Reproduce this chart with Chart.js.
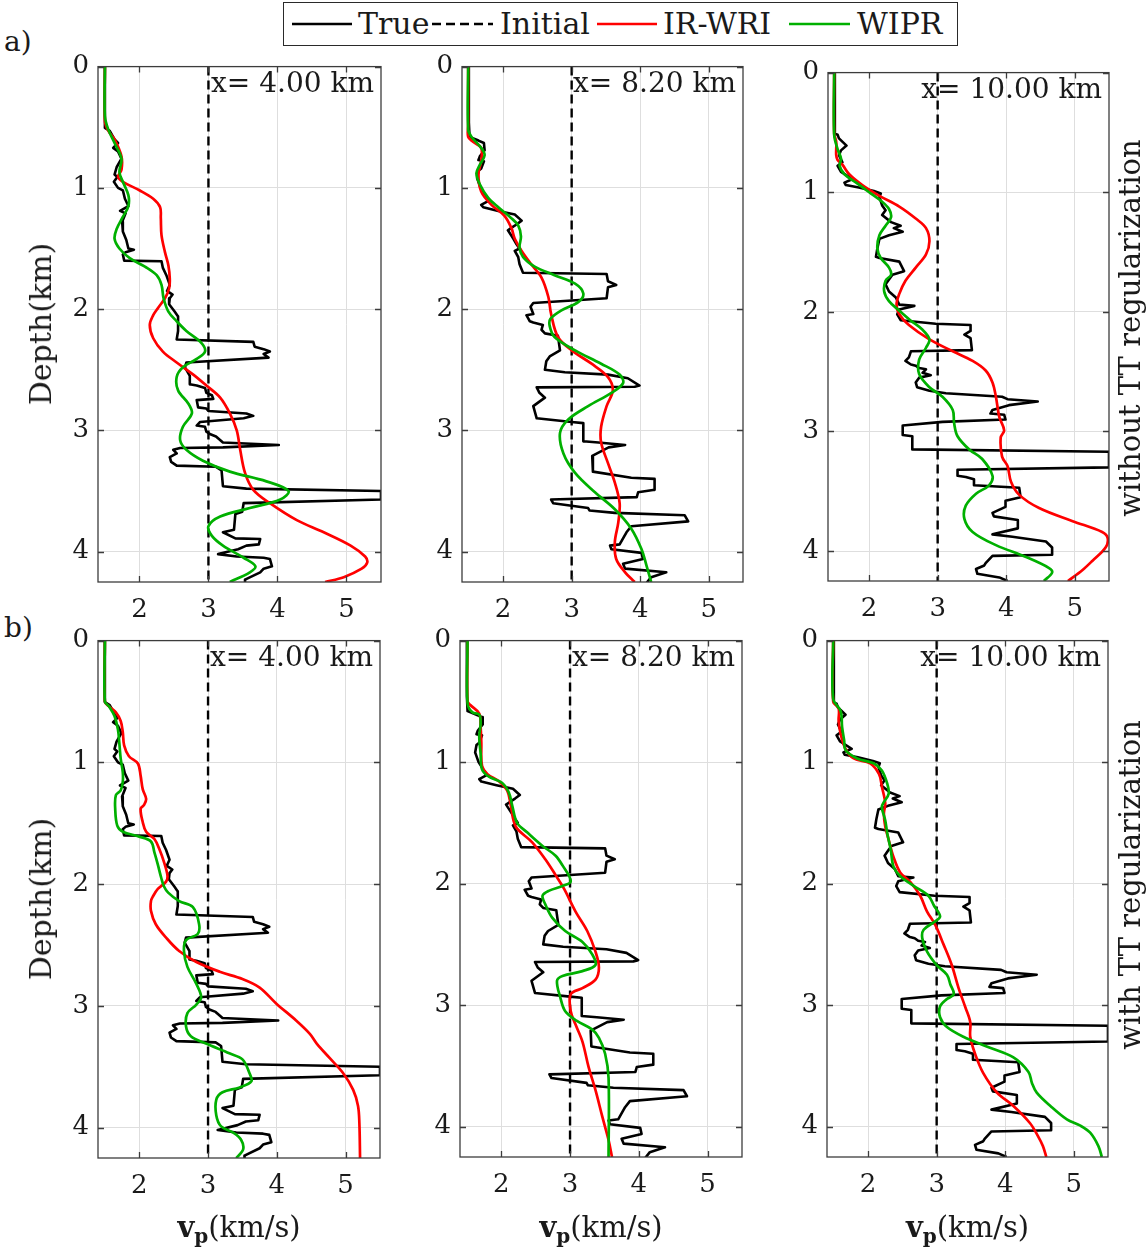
<!DOCTYPE html>
<html><head><meta charset="utf-8">
<script src="https://cdn.jsdelivr.net/npm/chart.js@4.4.1/dist/chart.umd.min.js"></script>
<style>
html,body{margin:0;padding:0;background:#fff;}
#wrap{position:relative;width:1148px;height:1255px;overflow:hidden;font-family:'DejaVu Serif',serif;color:#1a1a1a;}
.abs{position:absolute;white-space:nowrap;line-height:1;}
.rot{transform:translate(-50%,-50%) rotate(-90deg);}
canvas{display:block;}
</style></head><body><div id="wrap"></div>
<script>
// ---------- axis definitions ----------
const xTicks = [2, 3, 4, 5];
const yTicks = [0, 1, 2, 3, 4];
const vpRange = [1.4, 5.5];
const depthRange = [0, 4.25];
const seriesNames = ['True', 'Initial', 'IR-WRI', 'WIPR'];
const panelLabels = ['x= 4.00 km', 'x= 8.20 km', 'x= 10.00 km'];

// ---------- data: [depth (km), vp (km/s)] ----------
const initialModel = [[0, 3], [4.25, 3]];

const trueX4 = [[0,1.5],[0.505,1.5],[0.53,1.57],[0.60,1.64],[0.63,1.69],[0.67,1.62],[0.70,1.69],[0.76,1.74],[0.83,1.67],[0.89,1.64],[0.91,1.68],[0.95,1.63],[1.0,1.69],[1.02,1.76],[1.09,1.79],[1.15,1.84],[1.19,1.72],[1.21,1.80],[1.28,1.75],[1.36,1.76],[1.43,1.81],[1.50,1.84],[1.51,1.92],[1.53,1.80],[1.55,1.76],[1.60,1.78],[1.605,2.32],[1.66,2.34],[1.72,2.39],[1.80,2.44],[1.85,2.40],[1.88,2.48],[1.91,2.44],[1.96,2.43],[2.02,2.51],[2.06,2.56],[2.18,2.56],[2.25,2.54],[2.27,3.65],[2.31,3.67],[2.33,3.80],[2.35,3.89],[2.37,3.80],[2.40,3.87],[2.44,2.68],[2.48,2.66],[2.55,2.73],[2.62,2.73],[2.63,2.83],[2.65,2.95],[2.69,2.97],[2.71,3.05],[2.74,3.07],[2.75,2.83],[2.81,2.85],[2.82,2.97],[2.84,3.0],[2.86,3.55],[2.88,3.65],[2.90,3.51],[2.93,2.88],[2.96,2.83],[2.97,2.95],[3.01,2.97],[3.03,3.02],[3.05,3.11],[3.10,3.21],[3.12,4.02],[3.14,3.21],[3.145,2.59],[3.16,2.49],[3.19,2.54],[3.22,2.44],[3.26,2.46],[3.29,2.54],[3.30,3.11],[3.33,3.19],[3.46,3.21],[3.48,3.55],[3.50,5.5],[3.57,5.5],[3.60,3.51],[3.67,3.49],[3.69,3.39],[3.82,3.37],[3.84,3.21],[3.89,3.39],[3.895,3.75],[3.94,3.73],[3.95,3.55],[3.98,3.43],[4.02,3.14],[4.04,3.41],[4.05,3.80],[4.06,3.89],[4.12,3.92],[4.14,3.80],[4.17,3.75],[4.23,3.53],[4.26,3.53]];
const trueX82 = [[0,1.5],[0.46,1.5],[0.58,1.51],[0.61,1.64],[0.63,1.72],[0.69,1.73],[0.74,1.66],[0.77,1.64],[0.78,1.72],[0.84,1.68],[0.86,1.64],[0.92,1.62],[1.0,1.67],[1.08,1.76],[1.11,1.78],[1.14,1.68],[1.16,1.71],[1.19,1.93],[1.22,2.17],[1.27,2.27],[1.30,2.20],[1.33,2.12],[1.35,2.07],[1.42,2.15],[1.46,2.19],[1.50,2.24],[1.52,2.17],[1.57,2.22],[1.63,2.24],[1.70,2.29],[1.71,3.51],[1.77,3.53],[1.80,3.65],[1.82,3.53],[1.91,3.51],[1.95,2.44],[1.98,2.40],[2.04,2.44],[2.05,2.34],[2.10,2.39],[2.11,2.44],[2.13,2.58],[2.17,2.56],[2.20,2.61],[2.22,2.80],[2.34,2.83],[2.39,2.68],[2.43,2.63],[2.50,2.61],[2.52,2.90],[2.54,3.53],[2.57,3.82],[2.63,3.99],[2.64,3.92],[2.645,2.49],[2.69,2.53],[2.73,2.61],[2.80,2.44],[2.90,2.49],[2.93,3.0],[2.94,3.17],[3.09,3.17],[3.10,3.39],[3.12,3.78],[3.14,3.54],[3.21,3.30],[3.34,3.31],[3.39,3.87],[3.40,4.21],[3.49,4.21],[3.51,3.97],[3.55,3.95],[3.57,2.70],[3.60,2.73],[3.64,3.24],[3.66,3.26],[3.68,3.63],[3.70,4.65],[3.75,4.70],[3.79,3.87],[3.84,3.80],[3.94,3.70],[3.95,3.56],[3.98,3.58],[4.01,4.02],[4.06,4.04],[4.10,3.75],[4.14,3.78],[4.17,4.38],[4.21,4.16],[4.26,4.09]];
const trueX10 = [[0,1.5],[0.51,1.5],[0.52,1.54],[0.55,1.56],[0.61,1.67],[0.65,1.59],[0.69,1.56],[0.75,1.61],[0.78,1.54],[0.83,1.59],[0.89,1.76],[0.92,1.64],[0.94,1.66],[0.96,1.85],[0.99,2.07],[1.01,2.17],[1.04,2.15],[1.11,2.19],[1.15,2.24],[1.19,2.19],[1.25,2.32],[1.28,2.46],[1.30,2.36],[1.33,2.49],[1.36,2.29],[1.39,2.15],[1.47,2.12],[1.54,2.10],[1.55,2.15],[1.58,2.44],[1.66,2.51],[1.69,2.34],[1.73,2.29],[1.77,2.24],[1.83,2.29],[1.88,2.39],[1.94,2.44],[1.95,2.66],[1.98,2.44],[2.02,2.41],[2.07,2.46],[2.10,2.97],[2.11,3.48],[2.16,3.48],[2.19,3.39],[2.22,3.48],[2.32,3.50],[2.33,2.61],[2.38,2.58],[2.41,2.53],[2.44,2.61],[2.45,2.68],[2.47,2.73],[2.48,2.83],[2.51,2.78],[2.53,2.90],[2.55,2.73],[2.59,2.68],[2.63,2.70],[2.66,2.88],[2.68,3.12],[2.71,3.94],[2.73,4.02],[2.75,4.46],[2.78,4.04],[2.82,3.80],[2.85,3.77],[2.86,3.97],[2.90,3.99],[2.92,3.07],[2.95,2.49],[3.03,2.49],[3.04,2.63],[3.15,2.63],[3.17,5.5],[3.30,5.5],[3.32,3.29],[3.37,3.29],[3.38,3.41],[3.40,3.53],[3.45,3.53],[3.47,4.19],[3.55,4.21],[3.58,3.99],[3.63,3.99],[3.68,3.80],[3.71,3.82],[3.74,4.17],[3.81,4.17],[3.86,3.80],[3.88,4.09],[3.92,4.58],[3.97,4.67],[4.03,4.67],[4.04,3.80],[4.10,3.70],[4.12,3.68],[4.15,3.56],[4.19,3.58],[4.22,3.90],[4.25,4.02]];

// row a) without TT regularization
const irwriA4 = [[0,1.5],[0.45,1.5],[0.53,1.55],[0.60,1.64],[0.74,1.74],[0.85,1.74],[0.91,1.69],[0.95,1.76],[1.02,2.0],[1.09,2.2],[1.16,2.30],[1.25,2.31],[1.39,2.32],[1.53,2.37],[1.64,2.42],[1.75,2.44],[1.83,2.43],[1.91,2.37],[1.99,2.27],[2.05,2.20],[2.13,2.15],[2.24,2.20],[2.35,2.34],[2.44,2.54],[2.54,2.78],[2.63,2.97],[2.73,3.17],[2.86,3.31],[3.0,3.41],[3.16,3.46],[3.35,3.53],[3.49,3.65],[3.60,3.89],[3.74,4.28],[3.84,4.67],[3.95,5.06],[4.04,5.27],[4.09,5.30],[4.14,5.22],[4.21,4.96],[4.25,4.69]];
const wiprA4 = [[0,1.5],[0.41,1.5],[0.52,1.55],[0.63,1.64],[0.76,1.74],[0.87,1.71],[0.95,1.76],[1.06,1.84],[1.15,1.84],[1.24,1.76],[1.34,1.67],[1.42,1.64],[1.50,1.71],[1.58,1.86],[1.65,2.08],[1.72,2.25],[1.80,2.32],[1.91,2.35],[2.02,2.42],[2.10,2.54],[2.18,2.68],[2.28,2.90],[2.35,2.95],[2.41,2.83],[2.48,2.63],[2.56,2.54],[2.67,2.56],[2.78,2.71],[2.86,2.76],[2.97,2.63],[3.08,2.59],[3.16,2.68],[3.25,2.92],[3.34,3.31],[3.42,3.84],[3.50,4.16],[3.57,4.04],[3.64,3.60],[3.71,3.17],[3.79,3.0],[3.87,3.05],[3.95,3.21],[4.05,3.51],[4.12,3.68],[4.17,3.60],[4.25,3.31]];
const irwriA82 = [[0,1.49],[0.48,1.49],[0.58,1.49],[0.62,1.56],[0.67,1.68],[0.78,1.68],[0.89,1.64],[1.03,1.68],[1.14,1.83],[1.23,2.02],[1.33,2.12],[1.42,2.17],[1.52,2.27],[1.63,2.41],[1.74,2.56],[1.90,2.66],[2.04,2.70],[2.23,2.80],[2.34,3.0],[2.45,3.29],[2.56,3.53],[2.67,3.60],[2.80,3.51],[2.97,3.43],[3.10,3.43],[3.27,3.53],[3.43,3.63],[3.60,3.70],[3.76,3.68],[3.92,3.63],[4.06,3.65],[4.17,3.78],[4.25,3.92]];
const wiprA82 = [[0,1.49],[0.52,1.49],[0.58,1.54],[0.67,1.68],[0.73,1.73],[0.81,1.66],[0.88,1.61],[0.97,1.66],[1.08,1.78],[1.16,1.93],[1.25,2.12],[1.31,2.22],[1.40,2.26],[1.49,2.24],[1.57,2.29],[1.65,2.46],[1.72,2.75],[1.79,3.05],[1.87,3.17],[1.94,3.10],[2.01,2.85],[2.08,2.69],[2.14,2.68],[2.23,2.75],[2.34,3.05],[2.45,3.43],[2.54,3.70],[2.61,3.75],[2.69,3.58],[2.80,3.24],[2.91,2.95],[3.02,2.83],[3.19,2.88],[3.35,3.05],[3.51,3.34],[3.65,3.63],[3.81,3.87],[3.98,4.02],[4.11,4.09],[4.25,4.16]];
const irwriA10 = [[0,1.49],[0.51,1.49],[0.58,1.52],[0.69,1.52],[0.73,1.54],[0.77,1.61],[0.85,1.71],[0.94,1.90],[1.03,2.15],[1.12,2.44],[1.22,2.68],[1.30,2.83],[1.41,2.88],[1.52,2.83],[1.63,2.68],[1.74,2.53],[1.85,2.44],[1.94,2.40],[2.02,2.44],[2.11,2.58],[2.23,2.88],[2.33,3.22],[2.41,3.51],[2.49,3.70],[2.59,3.80],[2.71,3.85],[2.88,3.90],[2.99,3.97],[3.05,3.92],[3.21,3.94],[3.29,4.02],[3.42,4.07],[3.53,4.19],[3.64,4.48],[3.75,4.97],[3.84,5.40],[3.89,5.48],[3.97,5.45],[4.08,5.26],[4.16,5.11],[4.25,4.90]];
const wiprA10 = [[0,1.49],[0.52,1.49],[0.64,1.54],[0.72,1.59],[0.78,1.57],[0.85,1.64],[0.92,1.81],[1.0,2.0],[1.08,2.19],[1.14,2.29],[1.21,2.32],[1.28,2.24],[1.36,2.15],[1.47,2.12],[1.55,2.17],[1.63,2.29],[1.69,2.32],[1.74,2.24],[1.83,2.22],[1.91,2.29],[1.99,2.44],[2.07,2.60],[2.15,2.78],[2.23,2.88],[2.30,2.83],[2.40,2.73],[2.52,2.73],[2.63,2.88],[2.71,3.07],[2.82,3.22],[2.93,3.24],[3.04,3.29],[3.15,3.46],[3.23,3.65],[3.37,3.80],[3.45,3.75],[3.52,3.56],[3.62,3.41],[3.73,3.39],[3.84,3.51],[3.95,3.85],[4.05,4.29],[4.14,4.62],[4.18,4.67],[4.25,4.55]];

// row b) with TT regularization
const irwriB4 = [[0,1.5],[0.50,1.5],[0.54,1.56],[0.59,1.66],[0.66,1.73],[0.75,1.76],[0.86,1.78],[0.95,1.85],[1.01,1.98],[1.11,2.02],[1.22,2.05],[1.30,2.10],[1.35,2.07],[1.38,2.02],[1.49,2.05],[1.57,2.10],[1.63,2.22],[1.71,2.29],[1.82,2.36],[1.93,2.41],[1.98,2.39],[2.04,2.27],[2.10,2.20],[2.14,2.17],[2.22,2.17],[2.33,2.24],[2.44,2.39],[2.55,2.58],[2.64,2.83],[2.72,3.17],[2.78,3.50],[2.85,3.75],[2.98,3.99],[3.12,4.28],[3.23,4.48],[3.31,4.58],[3.43,4.77],[3.55,4.96],[3.69,5.11],[3.82,5.18],[3.96,5.20],[4.25,5.21]];
const wiprB4 = [[0,1.5],[0.50,1.5],[0.54,1.56],[0.62,1.64],[0.73,1.69],[0.84,1.71],[0.97,1.73],[1.08,1.76],[1.16,1.76],[1.23,1.73],[1.27,1.66],[1.38,1.65],[1.52,1.68],[1.57,1.76],[1.61,2.0],[1.65,2.17],[1.74,2.22],[1.84,2.27],[1.95,2.32],[2.02,2.36],[2.07,2.42],[2.14,2.58],[2.19,2.78],[2.33,2.87],[2.41,2.85],[2.46,2.68],[2.55,2.65],[2.68,2.70],[2.82,2.83],[2.93,2.90],[2.99,2.83],[3.06,2.70],[3.17,2.68],[3.25,2.75],[3.31,2.97],[3.39,3.31],[3.44,3.50],[3.55,3.60],[3.62,3.63],[3.67,3.46],[3.71,3.21],[3.77,3.12],[3.90,3.12],[3.99,3.19],[4.04,3.36],[4.10,3.48],[4.18,3.51],[4.25,3.41]];
const irwriB82 = [[0,1.51],[0.50,1.51],[0.53,1.55],[0.60,1.68],[0.71,1.70],[0.84,1.71],[1.03,1.72],[1.10,1.80],[1.16,1.97],[1.24,2.09],[1.36,2.14],[1.53,2.21],[1.66,2.45],[1.80,2.64],[1.93,2.79],[2.04,2.91],[2.23,3.08],[2.39,3.25],[2.56,3.37],[2.69,3.42],[2.79,3.37],[2.86,3.18],[2.91,3.01],[3.05,3.01],[3.16,3.08],[3.30,3.18],[3.51,3.27],[3.70,3.37],[3.92,3.47],[4.11,3.56],[4.25,3.61]];
const wiprB82 = [[0,1.51],[0.52,1.51],[0.59,1.58],[0.61,1.68],[0.68,1.70],[0.79,1.68],[0.93,1.70],[1.06,1.72],[1.12,1.82],[1.17,2.01],[1.25,2.11],[1.36,2.16],[1.50,2.23],[1.58,2.38],[1.69,2.60],[1.77,2.79],[1.85,2.89],[1.98,3.01],[2.02,2.89],[2.06,2.69],[2.10,2.60],[2.17,2.64],[2.28,2.74],[2.39,2.93],[2.48,3.18],[2.58,3.32],[2.67,3.37],[2.72,3.18],[2.76,2.89],[2.80,2.81],[2.94,2.86],[3.05,2.93],[3.13,3.10],[3.20,3.32],[3.27,3.42],[3.40,3.51],[3.60,3.56],[4.25,3.56]];
const irwriB10 = [[0,1.49],[0.50,1.49],[0.56,1.57],[0.66,1.57],[0.77,1.60],[0.89,1.67],[0.97,1.79],[1.01,2.03],[1.10,2.16],[1.20,2.20],[1.34,2.25],[1.42,2.23],[1.53,2.25],[1.64,2.30],[1.78,2.37],[1.91,2.47],[1.99,2.62],[2.10,2.76],[2.23,2.86],[2.34,2.98],[2.50,3.10],[2.67,3.22],[2.86,3.32],[3.02,3.42],[3.14,3.49],[3.26,3.49],[3.40,3.56],[3.56,3.68],[3.72,3.88],[3.83,4.12],[3.97,4.36],[4.08,4.48],[4.16,4.55],[4.25,4.60]];
const wiprB10 = [[0,1.49],[0.48,1.49],[0.58,1.60],[0.71,1.62],[0.82,1.65],[0.90,1.67],[0.97,1.84],[1.01,2.08],[1.07,2.20],[1.18,2.28],[1.26,2.30],[1.33,2.23],[1.37,2.20],[1.48,2.25],[1.59,2.28],[1.72,2.33],[1.86,2.37],[1.94,2.47],[2.02,2.67],[2.10,2.88],[2.18,2.96],[2.27,3.05],[2.31,2.98],[2.38,2.81],[2.45,2.79],[2.56,2.86],[2.67,3.0],[2.75,3.15],[2.83,3.20],[2.91,3.25],[2.95,3.15],[3.01,3.05],[3.10,3.05],[3.18,3.15],[3.26,3.39],[3.34,3.73],[3.43,4.12],[3.55,4.34],[3.64,4.39],[3.72,4.46],[3.83,4.66],[3.94,4.90],[3.99,5.09],[4.05,5.24],[4.16,5.36],[4.25,5.41]];

// ---------- layout (plot-area rectangles, px) ----------
const panels = [
  {title: panelLabels[0], truth: trueX4,  irwri: irwriA4,  wipr: wiprA4,  box: [98, 62, 381, 582]},
  {title: panelLabels[1], truth: trueX82, irwri: irwriA82, wipr: wiprA82, box: [462, 62, 743, 582]},
  {title: panelLabels[2], truth: trueX10, irwri: irwriA10, wipr: wiprA10, box: [828, 68, 1109, 581]},
  {title: panelLabels[0], truth: trueX4,  irwri: irwriB4,  wipr: wiprB4,  box: [98, 636, 380, 1158], xTitle: true},
  {title: panelLabels[1], truth: trueX82, irwri: irwriB82, wipr: wiprB82, box: [460, 636, 742, 1157], xTitle: true},
  {title: panelLabels[2], truth: trueX10, irwri: irwriB10, wipr: wiprB10, box: [827, 636, 1108, 1157], xTitle: true}
];

const COLORS = {truth: '#000000', initial: '#000000', irwri: '#ff0000', wipr: '#00b000'};
const FONT = "'DejaVu Serif', serif";
const YW = 50, PADT = 20, PADR = 12, XH = 50;
const wrap = document.getElementById('wrap');

function addText(html, css, cls) {
  const d = document.createElement('div');
  d.className = 'abs' + (cls ? ' ' + cls : '');
  d.innerHTML = html;
  Object.assign(d.style, css);
  wrap.appendChild(d);
  return d;
}

const boxPlugin = {
  id: 'boxPlugin',
  afterDraw(chart) {
    const {ctx, chartArea: a, scales: {x, y}} = chart;
    ctx.save();
    ctx.strokeStyle = '#3c3c3c';
    ctx.lineWidth = 1.3;
    ctx.strokeRect(a.left, a.top, a.right - a.left, a.bottom - a.top);
    ctx.beginPath();
    const tl = 6;
    xTicks.forEach(v => {
      const px = Math.round(x.getPixelForValue(v)) + 0.5;
      ctx.moveTo(px, a.bottom); ctx.lineTo(px, a.bottom - tl);
      ctx.moveTo(px, a.top); ctx.lineTo(px, a.top + tl);
    });
    yTicks.forEach(v => {
      const py = Math.round(y.getPixelForValue(v)) + 0.5;
      ctx.moveTo(a.left, py); ctx.lineTo(a.left + tl, py);
      ctx.moveTo(a.right, py); ctx.lineTo(a.right - tl, py);
    });
    ctx.stroke();
    ctx.restore();
  }
};

const toXY = arr => arr.map(([d, v]) => ({x: v, y: d}));

panels.forEach(p => {
  const [l, t, r, b] = p.box;
  const W = r - l + YW + PADR, H = b - t + PADT + XH;
  const holder = document.createElement('div');
  holder.style.position = 'absolute';
  holder.style.left = (l - YW) + 'px';
  holder.style.top = (t - PADT) + 'px';
  holder.style.width = W + 'px';
  holder.style.height = H + 'px';
  const cv = document.createElement('canvas');
  cv.width = W; cv.height = H;
  cv.style.width = W + 'px'; cv.style.height = H + 'px';
  holder.appendChild(cv);
  wrap.appendChild(holder);

  new Chart(cv.getContext('2d'), {
    type: 'scatter',
    data: {
      datasets: [
        {label: seriesNames[0], data: toXY(p.truth), borderColor: COLORS.truth, borderWidth: 2.6, tension: 0, order: 4},
        {label: seriesNames[1], data: toXY(initialModel), borderColor: COLORS.initial, borderWidth: 2.4, borderDash: [9, 5], tension: 0, order: 3},
        {label: seriesNames[2], data: toXY(p.irwri), borderColor: COLORS.irwri, borderWidth: 2.7, tension: 0.35, order: 2},
        {label: seriesNames[3], data: toXY(p.wipr), borderColor: COLORS.wipr, borderWidth: 2.7, tension: 0.35, order: 1}
      ].map(ds => Object.assign(ds, {showLine: true, pointRadius: 0, pointHoverRadius: 0, fill: false, borderJoinStyle: 'round', borderCapStyle: 'butt'}))
    },
    options: {
      responsive: false,
      devicePixelRatio: 1,
      animation: false,
      events: [],
      layout: {padding: {top: PADT, right: PADR, left: 0, bottom: 0}},
      plugins: {legend: {display: false}, tooltip: {enabled: false}, title: {display: false}},
      scales: {
        x: {
          type: 'linear', min: vpRange[0], max: vpRange[1],
          afterBuildTicks: s => { s.ticks = xTicks.map(v => ({value: v})); },
          afterFit: s => { s.height = XH; },
          grid: {color: '#dedede', lineWidth: 1, drawTicks: false},
          border: {display: false},
          ticks: {font: {family: FONT, size: 26}, color: '#1a1a1a', padding: 13, maxRotation: 0, autoSkip: false}
        },
        y: {
          type: 'linear', min: depthRange[0], max: depthRange[1], reverse: true,
          afterBuildTicks: s => { s.ticks = yTicks.map(v => ({value: v})); },
          afterFit: s => { s.width = YW; },
          grid: {color: '#dedede', lineWidth: 1, drawTicks: false},
          border: {display: false},
          ticks: {font: {family: FONT, size: 26}, color: '#1a1a1a', padding: 9, autoSkip: false}
        }
      }
    },
    plugins: [boxPlugin]
  });

  // panel annotation
  addText(p.title, {right: (1148 - (r - 7)) + 'px', top: (t + 7) + 'px', fontSize: '28px'});
  if (p.xTitle) {
    addText('<b>v</b><sub style="font-size:20px;vertical-align:-6px"><b>p</b></sub>(km/s)',
      {left: ((l + r) / 2) + 'px', top: '1229px', fontSize: '29px', transform: 'translate(-50%,-50%)'});
  }
});

// y-axis titles
addText('Depth(km)', {left: '41px', top: '324px', fontSize: '30px'}, 'rot');
addText('Depth(km)', {left: '41px', top: '899px', fontSize: '30px'}, 'rot');
// row labels
addText('without TT regularization', {left: '1130px', top: '328px', fontSize: '29px'}, 'rot');
addText('with TT regularization', {left: '1130px', top: '885px', fontSize: '29px'}, 'rot');
addText('a)', {left: '4px', top: '28px', fontSize: '28px'});
addText('b)', {left: '4px', top: '614px', fontSize: '28px'});

// legend (HTML box with SVG line samples)
const leg = document.createElement('div');
Object.assign(leg.style, {position: 'absolute', left: '283px', top: '2px', width: '675px', height: '44px', border: '1.3px solid #2a2a2a', background: '#fff', boxSizing: 'border-box'});
wrap.appendChild(leg);
const legendItems = [
  {name: seriesNames[0], color: COLORS.truth, dash: '', x0: 292, x1: 352, tx: 358},
  {name: seriesNames[1], color: COLORS.initial, dash: '9 5', x0: 432, x1: 493, tx: 500},
  {name: seriesNames[2], color: COLORS.irwri, dash: '', x0: 597, x1: 657, tx: 663},
  {name: seriesNames[3], color: COLORS.wipr, dash: '', x0: 789, x1: 850, tx: 857}
];
const NS = 'http://www.w3.org/2000/svg';
const svg = document.createElementNS(NS, 'svg');
svg.setAttribute('width', '1148'); svg.setAttribute('height', '50');
Object.assign(svg.style, {position: 'absolute', left: '0px', top: '0px'});
legendItems.forEach(it => {
  const ln = document.createElementNS(NS, 'line');
  ln.setAttribute('x1', it.x0); ln.setAttribute('x2', it.x1);
  ln.setAttribute('y1', 24); ln.setAttribute('y2', 24);
  ln.setAttribute('stroke', it.color); ln.setAttribute('stroke-width', '2.6');
  if (it.dash) ln.setAttribute('stroke-dasharray', it.dash);
  svg.appendChild(ln);
  addText(it.name, {left: it.tx + 'px', top: '9px', fontSize: '30px'});
});
wrap.appendChild(svg);
</script></body></html>
